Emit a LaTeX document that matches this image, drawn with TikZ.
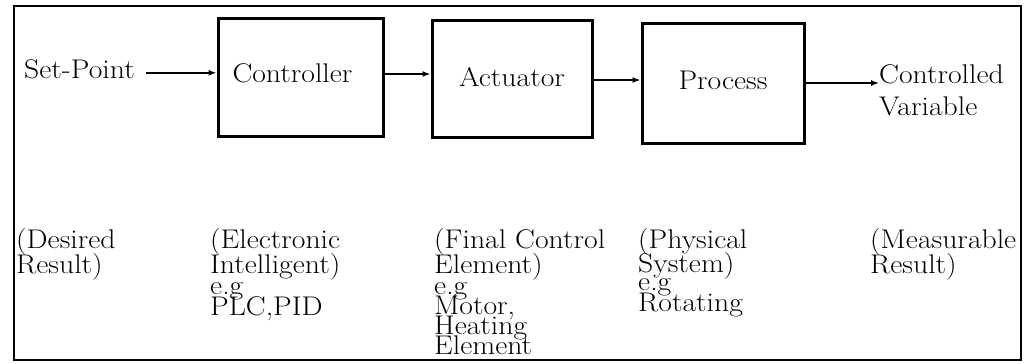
\documentclass[tikz,border=0pt]{standalone}
\usepackage{fontspec}
\setmainfont[FakeStretch=1.1]{Latin Modern Roman}
\usetikzlibrary{arrows.meta}
\begin{document}
\begin{tikzpicture}[x=1pt,y=-1pt,
  font=\fontsize{27}{30}\selectfont,
  blk/.style={draw, line width=3pt, inner sep=0pt},
  lbl/.style={anchor=base west, inner sep=0pt},
  arr/.style={line width=1.5pt, -{Latex[length=8pt,width=6pt]}}]
\useasboundingbox (0,0) rectangle (1026,364);
\draw[line width=1.8pt] (14,6) rectangle (1021,360);
% blocks
\node[blk, minimum width=165pt, minimum height=118pt, text height=20pt, text depth=10pt] (ctrl) at (300.5,77) {Controller\hspace*{16pt}};
\node[blk, minimum width=160pt, minimum height=117pt, text height=20pt, text depth=4pt] (act) at (512,78.5) {Actuator};
\node[blk, minimum width=162pt, minimum height=120pt, text height=20pt, text depth=8pt] (proc) at (723,83) {Process};
% input / output labels
\node[lbl] (sp) at (24,78) {Set-Point};
\node[lbl] (cv1) at (879,83) {Controlled};
\node[lbl] (cv2) at (879,115) {Variable};
% connectors
\draw[arr] ([shift={(11,4)}]sp.east) coordinate (s1) -- (s1 -| ctrl.west);
\draw[arr] ([yshift=3pt]ctrl.east) coordinate (s2) -- (s2 -| act.west);
\draw[arr] ([yshift=-1.5pt]act.east) coordinate (s3) -- (s3 -| proc.west);
\draw[arr] (proc.east) -- (proc.east -| cv1.west);
% description notes
\node[lbl] (d1) at (16,248) {(Desired};
\node[lbl] (d2) at (16,273) {Result)};
\node[lbl] (e1) at (210,248) {(Electronic};
\node[lbl] (e2) at (210,273) {Intelligent)};
\node[lbl] (e3) at (210,294) {e.g};
\node[lbl] (e4) at (210,315) {PLC,PID};
\node[lbl] (f1) at (434,248) {(Final Control};
\node[lbl] (f2) at (434,273) {Element)};
\node[lbl] (f3) at (434,294) {e.g};
\node[lbl] (f4) at (434,314) {Motor,};
\node[lbl] (f5) at (434,334) {Heating};
\node[lbl] (f6) at (434,354) {Element};
\node[lbl] (p1) at (638,248) {(Physical};
\node[lbl] (p2) at (638,272) {System)};
\node[lbl] (p3) at (638,290) {e.g};
\node[lbl] (p4) at (638,311) {Rotating};
\node[lbl] (m1) at (870,248) {(Measurable};
\node[lbl] (m2) at (870,273) {Result)};
\end{tikzpicture}
\end{document}
